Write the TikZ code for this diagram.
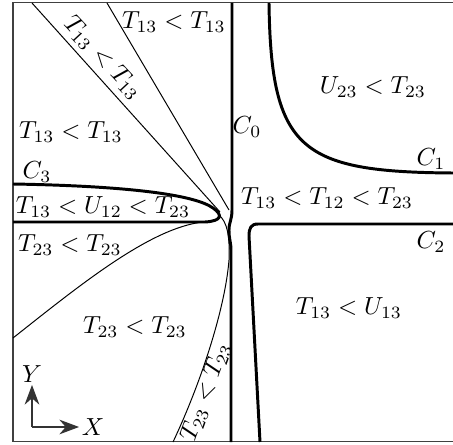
\documentclass[tikz,border=0pt]{standalone}
\usetikzlibrary{arrows.meta}
\tikzset{
  frame/.style={draw=black!75,line width=0.5pt},
  bigcurve/.style={draw=black,line width=1.2pt},
  smallcurve/.style={draw=black,line width=0.4pt},
  axis/.style={-{Stealth[length=2.8mm,width=2.1mm]},draw=black!80,line width=0.45pt},
  region/.style={inner sep=0pt,font=\normalsize}
}
\begin{document}
\begin{tikzpicture}[x=0.405pt,y=-0.405pt]
  \useasboundingbox (0,0) rectangle (453,445);
  \draw[frame] (13,2.5) rectangle (456,441.5);
  % thin boundaries
  \draw[smallcurve] (32,3) -- (220,212);
  \draw[smallcurve] (107,3) -- (229,210);
  \draw[smallcurve] (219,215) .. controls (227,222) and (230,235) .. (229,260)
    .. controls (225,310) and (200,385) .. (173,442);
  \draw[smallcurve] (13,338) .. controls (80,285) and (150,228) .. (203,222);
  % thick curves
  \draw[bigcurve] (232,3) -- (232,210) .. controls (232,220) and (229,222) .. (229,230)
    .. controls (229,240) and (231,242) .. (231,250) -- (231,442);
  \draw[bigcurve] (269,3) .. controls (271,150) and (300,172) .. (453,173);
  \draw[bigcurve] (453,224) -- (258,224) .. controls (251,224) and (249,228) .. (249,236) -- (260,442);
  \draw[bigcurve] (13,184) .. controls (130,186) and (195,195) .. (213,208)
    .. controls (223,215) and (222,221) .. (205,222) -- (13,222);
  % curve names
  \node[region] (c0) at (247,127) {$C_0$};
  \node[region] (c1) at (431,159) {$C_1$};
  \node[region] (c2) at (431,242) {$C_2$};
  \node[region] (c3) at (37,172) {$C_3$};
  % regions
  \node[region] (topmid) at (174,22) {$T_{13}<T_{13}$};
  \node[region,rotate=-47] (wedge) at (103,58) {$T_{13}<T_{13}$};
  \node[region] (upleft) at (71,132) {$T_{13}<T_{13}$};
  \node[region] (loop) at (103,207) {$T_{13}<U_{12}<T_{23}$};
  \node[region] (midleft) at (70,245) {$T_{23}<T_{23}$};
  \node[region] (lowleft) at (135,327) {$T_{23}<T_{23}$};
  \node[region,rotate=70] (sliver) at (206,392) {$T_{23}<T_{23}$};
  \node[region] (upright) at (373,87) {$U_{23}<T_{23}$};
  \node[region] (centre) at (327,198) {$T_{13}<T_{12}<T_{23}$};
  \node[region] (lowright) at (349,308) {$T_{13}<U_{13}$};
  % axes
  \coordinate (o) at (32,427);
  \coordinate (ytip) at (32,385);
  \coordinate (xtip) at (79,427);
  \draw[axis] (o) -- (ytip);
  \draw[axis] (o) -- (xtip);
  \node[region,above=1pt] (ylab) at (ytip) {$Y$};
  \node[region,right=1pt] (xlab) at (xtip) {$X$};
\end{tikzpicture}
\end{document}
